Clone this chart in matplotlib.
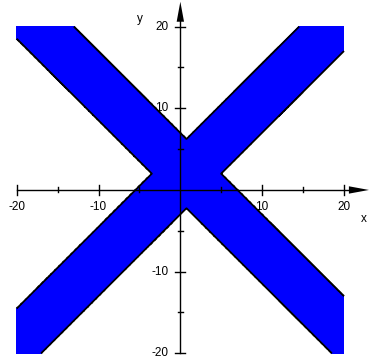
import numpy as np
import matplotlib.pyplot as plt

# region: union of two diagonal strips, clipped to the plotting box
xrange_ = [-20, 20]
yrange_ = [-20, 20]
sum_band = [-1.5, 7.0]    # lower < x + y < upper
diff_band = [-3.0, 5.5]   # lower < y - x < upper

major_ticks = [-20, -10, 10, 20]
minor_ticks = [-15, -5, 5, 15]
tick_labels = ['-20', '-10', '10', '20']

fig = plt.figure(figsize=(3.71, 3.60), dpi=100)
ax = fig.add_axes([0, 0, 1, 1])
ax.set_xlim(-22.04, 23.30)
ax.set_ylim(-20.82, 23.26)
ax.axis('off')

# indicator of the region on a fine grid
x = np.linspace(xrange_[0], xrange_[1], 1201)
y = np.linspace(yrange_[0], yrange_[1], 1201)
X, Y = np.meshgrid(x, y)
s = X + Y
d = Y - X
inside = ((s > sum_band[0]) & (s < sum_band[1])) | ((d > diff_band[0]) & (d < diff_band[1]))
Z = inside.astype(float)

ax.contourf(X, Y, Z, levels=[0.5, 1.5], colors=['#0000ff'], zorder=2)
ax.contour(X, Y, Z, levels=[0.5], colors='black', linewidths=1.3, zorder=3)

# axes through the origin with arrow heads
px = 40 / 327.3  # data units per pixel
ax.plot([-20, 21.0], [0, 0], color='black', lw=1.0, zorder=4)
ax.plot([0, 0], [-20, 21.0], color='black', lw=1.0, zorder=4)
ax.fill([20.6, 23.05, 20.6], [0.45, 0, -0.45], color='black', lw=0, zorder=4)
ax.fill([-0.45, 0, 0.45], [20.6, 23.05, 20.6], color='black', lw=0, zorder=4)

for t in major_ticks:
    ax.plot([t, t], [-5 * px, 5 * px], color='black', lw=1.0, zorder=4)
    ax.plot([-5 * px, 5 * px], [t, t], color='black', lw=1.0, zorder=4)
for t in minor_ticks:
    ax.plot([t, t], [-2.5 * px, 2.5 * px], color='black', lw=1.0, zorder=4)
    ax.plot([-2.5 * px, 2.5 * px], [t, t], color='black', lw=1.0, zorder=4)

font = dict(family=['Liberation Sans', 'DejaVu Sans'], fontsize=8.5, color='black', zorder=1)
for t, lab in zip(major_ticks, tick_labels):
    ax.text(t, -17 * px, lab, ha='center', va='center', **font)
    ax.text(-12 * px, t, lab, ha='right', va='center', **font)

ax.text(22.4, -29 * px, 'x', ha='center', va='center', **font)
ax.text(-40 * px, 171 * px, 'y', ha='center', va='center', **font)

fig.savefig('out.png', dpi=100)
